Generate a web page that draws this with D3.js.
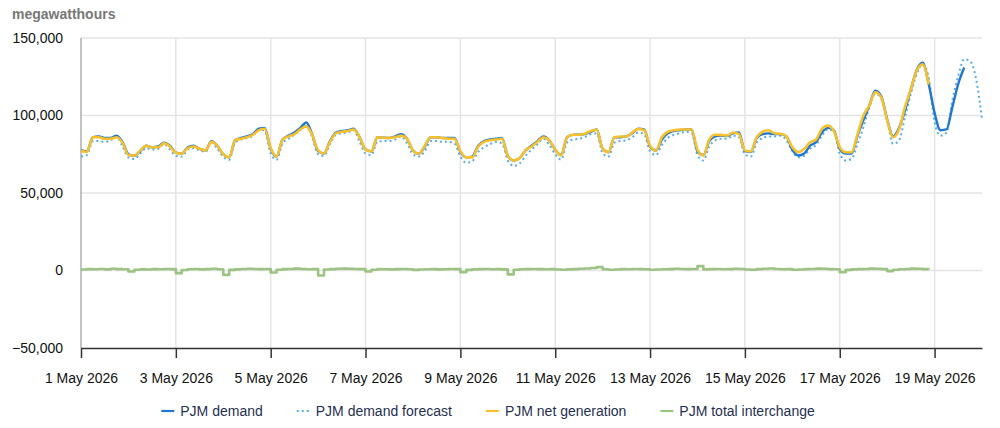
<!DOCTYPE html>
<html>
<head>
<meta charset="utf-8">
<script src="https://cdn.jsdelivr.net/npm/d3@7"></script>
<style>
  body { margin: 0; background: #fff; }
  svg { display: block; font-family: "Liberation Sans", Arial, sans-serif; }
</style>
</head>
<body>
<div id="chart"></div>
<script>
// hourly data read at 3-hour steps, starting 1 May 2026 00:00 UTC
const startTime = "2026-05-01T00:00:00Z";
const stepHours = 3;

const demand = [
  77500, 77000, 86000, 86500, 85500, 85500, 87000, 83000,
  75000, 74000, 77000, 80500, 79500, 80000, 82500, 80500,
  76000, 75300, 79500, 80500, 78500, 77500, 83500, 80500,
  75000, 73000, 84000, 85500, 86500, 88000, 91500, 92000,
  78500, 73500, 84500, 87000, 89000, 92000, 95500, 88000,
  77000, 75500, 83500, 89000, 90000, 90500, 91500, 86000,
  78000, 76800, 86000, 85600, 85500, 86500, 88000, 85000,
  77500, 75300, 80000, 86000, 86000, 85500, 85500, 85500,
  76500, 73000, 73500, 80500, 83500, 84500, 85000, 85500,
  74000, 71000, 72500, 77500, 80500, 83500, 86500, 84000,
  78000, 74500, 86000, 87500, 87600, 88000, 89500, 91000,
  78500, 76300, 86000, 86000, 86500, 88500, 91500, 91000,
  80000, 77400, 84500, 88500, 90000, 90500, 91000, 91000,
  77000, 74500, 83500, 86500, 87000, 86800, 88500, 89000,
  77000, 76500, 85500, 88000, 88500, 88000, 88000, 86500,
  78000, 74200, 75500, 80600, 82800, 89000, 92000, 90500,
  78500, 75500, 75500, 87000, 97000, 106500, 116000, 112500,
  97500, 86500, 92000, 103000, 117000, 129500, 134000, 120500,
  101700, 90500, 91000, 105400, 120500, 131000
];

const demandForecast = [
  73500, 74500, 83500, 83500, 83000, 84000, 86500, 80000,
  73000, 72000, 75500, 79000, 78000, 78500, 81500, 78000,
  74000, 73500, 78000, 79000, 77500, 76500, 82500, 78500,
  73500, 71500, 82500, 84500, 85500, 87000, 91000, 90000,
  75500, 71500, 82000, 85000, 87500, 90500, 94500, 86000,
  75000, 74000, 81500, 87500, 88500, 89000, 90500, 83000,
  75500, 74500, 83000, 83500, 83500, 84500, 86500, 82000,
  75000, 73500, 77000, 83500, 83500, 83000, 83000, 82000,
  73500, 69500, 70500, 76500, 79500, 81500, 83000, 82000,
  71000, 67500, 69000, 74000, 78000, 81500, 85000, 81000,
  75000, 71500, 82500, 84500, 85000, 86000, 88000, 88500,
  75500, 73500, 82500, 83500, 84000, 86000, 89000, 88000,
  77000, 74500, 81000, 85500, 87500, 88500, 89500, 89000,
  74500, 71000, 80000, 84000, 85000, 85000, 87000, 86000,
  75000, 73500, 82500, 85500, 86500, 86500, 87000, 84000,
  77000, 73000, 74000, 78500, 81000, 87000, 91000, 90000,
  75300, 71000, 72000, 81700, 92500, 105400, 114000, 110800,
  96800, 81700, 83900, 98900, 114000, 127000, 133000, 124700,
  95700, 87000, 89000, 109700, 125800, 136300, 135000, 123700,
  97800
];

const netGeneration = [
  77000, 76500, 86000, 86000, 85000, 85000, 86000, 82500,
  74500, 74000, 77500, 80500, 79500, 79500, 82000, 80000,
  76000, 75300, 79000, 80000, 78500, 77500, 83000, 80500,
  75000, 73000, 84000, 85000, 86000, 87500, 90500, 91500,
  79000, 73500, 84500, 86500, 88000, 91000, 93000, 87500,
  77500, 75500, 83000, 88500, 89500, 90000, 91000, 86000,
  78000, 76800, 86000, 85600, 85500, 86000, 87000, 85000,
  77500, 75300, 80500, 86000, 86000, 85500, 85000, 85000,
  77000, 73000, 73000, 80000, 83000, 84000, 84500, 85000,
  74000, 71000, 72500, 77500, 80000, 83000, 86000, 84000,
  78000, 74200, 86000, 87600, 87600, 88200, 90000, 90800,
  78500, 76300, 86000, 86500, 86500, 89000, 91400, 90500,
  80500, 77400, 86000, 89500, 90500, 91000, 91000, 91000,
  78000, 74200, 84500, 87600, 87500, 87000, 89000, 88000,
  77500, 76800, 86000, 89500, 90500, 88500, 88200, 86500,
  79600, 76300, 78500, 82800, 84500, 91400, 93500, 90000,
  79600, 76300, 76300, 88000, 100000, 106500, 115000, 111800,
  97000, 86000, 91000, 105400, 117000, 129000, 133000, 120000
];

const totalInterchange = [
  600, 900, 800, 1000, 700, 1100, 900, 800,
  -600, 500, 700, 600, 900, 800, 1000, 900,
  -1700, 300, 800, 1000, 700, 900, 1100, 800,
  -2800, 400, 700, 1000, 1100, 1000, 900, 1000,
  -1300, 500, 900, 1000, 1200, 1000, 800, 900,
  -3200, 600, 900, 1100, 1200, 1100, 1000, 900,
  -600, 500, 900, 800, 700, 900, 1000, 800,
  400, 600, 800, 900, 700, 800, 1000, 900,
  -1100, 400, 700, 900, 1000, 800, 900, 700,
  -2500, 500, 800, 900, 1000, 900, 800, 900,
  600, 500, 700, 900, 1100, 1300, 1600, 2200,
  800, 500, 600, 900, 800, 1000, 900, 800,
  500, 600, 800, 900, 1100, 1000, 900, 1000,
  2800, 700, 900, 1000, 800, 900, 1100, 1000,
  600, 500, 900, 1100, 1300, 1000, 800, 900,
  500, 600, 900, 1000, 1200, 1100, 900, 800,
  -1100, 400, 700, 900, 1000, 1200, 1100, 900,
  -400, 500, 800, 1000, 1200, 1100, 900, 700
];

const yTickValues = [-50000, 0, 50000, 100000, 150000];
const legendLabels = ["PJM demand", "PJM demand forecast", "PJM net generation", "PJM total interchange"];

const width = 1000;
const height = 428;
const margin = { top: 38, right: 18, bottom: 80, left: 81 };

const svg = d3.select("#chart")
  .append("svg")
  .attr("width", width)
  .attr("height", height);

const t0 = new Date(startTime);
const toPoints = (values) =>
  values.map((v, i) => ({ date: d3.utcHour.offset(t0, i * stepHours), value: v }));

const x = d3.scaleUtc()
  .domain([t0, d3.utcDay.offset(t0, 19)])
  .range([margin.left, width - margin.right]);

const y = d3.scaleLinear()
  .domain([-50000, 150000])
  .range([height - margin.bottom, margin.top]);

const xTicks = x.ticks(d3.utcDay.every(2));

// gridlines
svg.append("g")
  .selectAll("line")
  .data(yTickValues.filter((d) => d !== -50000))
  .join("line")
  .attr("x1", margin.left)
  .attr("x2", width - margin.right)
  .attr("y1", (d) => y(d))
  .attr("y2", (d) => y(d))
  .attr("stroke", "#e4e4e4")
  .attr("stroke-width", 1.5);

svg.append("g")
  .selectAll("line")
  .data(xTicks.slice(1))
  .join("line")
  .attr("x1", (d) => x(d))
  .attr("x2", (d) => x(d))
  .attr("y1", margin.top)
  .attr("y2", height - margin.bottom)
  .attr("stroke", "#e4e4e4")
  .attr("stroke-width", 1.5);

// left axis line
svg.append("line")
  .attr("x1", margin.left)
  .attr("x2", margin.left)
  .attr("y1", margin.top)
  .attr("y2", height - margin.bottom)
  .attr("stroke", "#9a9a9a")
  .attr("stroke-width", 1.2);

// y labels
svg.append("g")
  .selectAll("text")
  .data(yTickValues)
  .join("text")
  .attr("x", margin.left - 18)
  .attr("y", (d) => y(d))
  .attr("dy", "0.35em")
  .attr("text-anchor", "end")
  .attr("font-size", 14)
  .attr("fill", "#111")
  .text((d) => d3.format(",")(d));

// x axis
const xAxis = svg.append("g")
  .attr("transform", `translate(0,${height - margin.bottom})`)
  .call(d3.axisBottom(x).tickValues(xTicks).tickSize(10).tickSizeOuter(0)
    .tickFormat(d3.utcFormat("%-d %B %Y")));
xAxis.select(".domain").attr("stroke", "#333").attr("stroke-width", 1.5);
xAxis.selectAll(".tick line").attr("stroke", "#333").attr("stroke-width", 1.5);
xAxis.selectAll(".tick text")
  .attr("font-size", 14)
  .attr("font-family", "Liberation Sans, Arial, sans-serif")
  .attr("fill", "#111")
  .attr("dy", "1.55em");

// title
svg.append("text")
  .attr("x", 12)
  .attr("y", 19)
  .attr("font-size", 14)
  .attr("font-weight", "bold")
  .attr("fill", "#777")
  .text("megawatthours");

const smooth = d3.line()
  .x((d) => x(d.date))
  .y((d) => y(d.value))
  .curve(d3.curveMonotoneX);

const stepped = d3.line()
  .x((d) => x(d.date))
  .y((d) => y(d.value))
  .curve(d3.curveStepAfter);

const series = [
  { name: legendLabels[1], values: demandForecast, color: "#5aaee6", width: 2, dash: "2,3", line: smooth },
  { name: legendLabels[0], values: demand, color: "#2177d0", width: 2.4, dash: null, line: smooth },
  { name: legendLabels[2], values: netGeneration, color: "#f8c12c", width: 2.6, dash: null, line: smooth },
  { name: legendLabels[3], values: totalInterchange, color: "#9cc383", width: 2.6, dash: null, line: stepped }
];

svg.append("g")
  .selectAll("path")
  .data(series)
  .join("path")
  .attr("d", (s) => s.line(toPoints(s.values)))
  .attr("fill", "none")
  .attr("stroke", (s) => s.color)
  .attr("stroke-width", (s) => s.width)
  .attr("stroke-dasharray", (s) => s.dash)
  .attr("stroke-linejoin", "round");

// legend
const legendOrder = [1, 0, 2, 3].map((i) => series[i]);
const legend = svg.append("g").attr("transform", "translate(0,411)");
const items = legend.selectAll("g")
  .data(legendOrder)
  .join("g");

items.append("line")
  .attr("x1", 0)
  .attr("x2", 13)
  .attr("stroke", (s) => s.color)
  .attr("stroke-width", 2.2)
  .attr("stroke-dasharray", (s) => s.dash);

items.append("text")
  .attr("x", 19)
  .attr("dy", "0.35em")
  .attr("font-size", 14)
  .attr("fill", "#1f2f52")
  .text((s) => s.name);

let cursor = 0;
const offsets = [];
const gap = 34;
items.each(function () {
  offsets.push(cursor);
  const w = d3.select(this).select("text").node().getComputedTextLength();
  cursor += 19 + w + gap;
});
const totalW = cursor - gap;
const legendStart = 488 - totalW / 2;
items.attr("transform", (d, i) => `translate(${legendStart + offsets[i]},0)`);
</script>
</body>
</html>
